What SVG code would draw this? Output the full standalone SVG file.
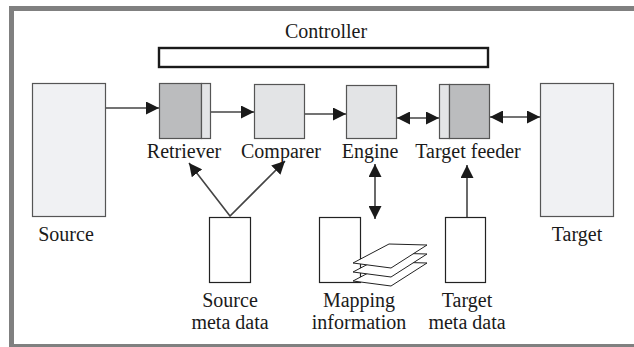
<svg xmlns="http://www.w3.org/2000/svg" width="634" height="347" viewBox="0 0 634 347">
  <defs>
    <marker id="arrow" markerUnits="userSpaceOnUse" markerWidth="13" markerHeight="13" viewBox="0 0 12 12" refX="12" refY="6" orient="auto-start-reverse">
      <path d="M0,0 L12,6 L0,12 z" fill="#1a1a1a"/>
    </marker>
    <style>
      text { font-family: "Liberation Serif", "Times New Roman", serif; font-size: 20px; fill: #1a1a1a; text-anchor: middle; }
      .store { fill: #f0f1f3; stroke: #555; stroke-width: 1.2; }
      .proc { fill: #e3e4e6; stroke: #555; stroke-width: 1.2; }
      .dark { fill: #bbbcbe; stroke: #555; stroke-width: 1.2; }
      .meta { fill: #fff; stroke: #222; stroke-width: 1.2; }
      .sheet { fill: #fff; stroke: #222; stroke-width: 1; stroke-linejoin: round; }
      .conn { fill: none; stroke: #444; stroke-width: 1.6; }
    </style>
  </defs>

  <rect x="0" y="0" width="634" height="347" fill="#fff"/>
  <!-- frame -->
  <rect x="11.5" y="8.5" width="640" height="338" fill="none" stroke="#808080" stroke-width="5"/>

  <g id="controller">
    <text x="326" y="38">Controller</text>
    <rect x="159" y="48" width="329" height="19" fill="#fff" stroke="#1a1a1a" stroke-width="2.4"/>
  </g>

  <g id="source">
    <rect class="store" x="32.5" y="83.5" width="73" height="133"/>
    <text x="66" y="241">Source</text>
  </g>

  <g id="retriever">
    <rect class="dark" x="159.5" y="83.5" width="42" height="55"/>
    <rect class="proc" x="201.5" y="83.5" width="9" height="55"/>
    <text x="184" y="158">Retriever</text>
  </g>

  <g id="comparer">
    <rect class="proc" x="254.5" y="84.5" width="50" height="54"/>
    <text x="281" y="158">Comparer</text>
  </g>

  <g id="engine">
    <rect class="proc" x="346.5" y="85.5" width="50" height="53"/>
    <text x="370" y="158">Engine</text>
  </g>

  <g id="target-feeder">
    <rect class="proc" x="439.5" y="84.5" width="10" height="54"/>
    <rect class="dark" x="449.5" y="84.5" width="40" height="54"/>
    <text x="468" y="158">Target feeder</text>
  </g>

  <g id="target">
    <rect class="store" x="540.5" y="83.5" width="73" height="133"/>
    <text x="577" y="241">Target</text>
  </g>

  <g id="source-meta">
    <rect class="meta" x="209.5" y="217.5" width="41" height="65"/>
    <text x="230" y="307">Source</text>
    <text x="230" y="329">meta data</text>
  </g>

  <g id="mapping-info">
    <rect class="meta" x="319.5" y="217.5" width="41" height="65"/>
    <path class="sheet" d="M353,281 L389,262 L427,263 L391,286 Z"/>
    <path class="sheet" d="M353,272 L389,253 L427,254 L391,277 Z"/>
    <path class="sheet" d="M353,263 L389,244 L427,245 L391,268 Z"/>
    <text x="359" y="307">Mapping</text>
    <text x="359" y="329">information</text>
  </g>

  <g id="target-meta">
    <rect class="meta" x="445.5" y="217.5" width="40" height="65"/>
    <text x="467" y="307">Target</text>
    <text x="467" y="329">meta data</text>
  </g>

  <g id="connectors">
    <line class="conn" x1="106" y1="108" x2="159" y2="108" marker-end="url(#arrow)"/>
    <line class="conn" x1="211" y1="112" x2="254" y2="112" marker-end="url(#arrow)"/>
    <line class="conn" x1="305" y1="114" x2="346" y2="114" marker-end="url(#arrow)"/>
    <line class="conn" x1="397" y1="118" x2="439" y2="118" marker-start="url(#arrow)" marker-end="url(#arrow)"/>
    <line class="conn" x1="490" y1="117" x2="540" y2="117" marker-start="url(#arrow)" marker-end="url(#arrow)"/>
    <polyline class="conn" points="189,163 230,216 285,161" marker-start="url(#arrow)" marker-end="url(#arrow)"/>
    <line class="conn" x1="375" y1="164" x2="375" y2="219" marker-start="url(#arrow)" marker-end="url(#arrow)"/>
    <line class="conn" x1="467" y1="217" x2="467" y2="165" marker-end="url(#arrow)"/>
  </g>
</svg>
